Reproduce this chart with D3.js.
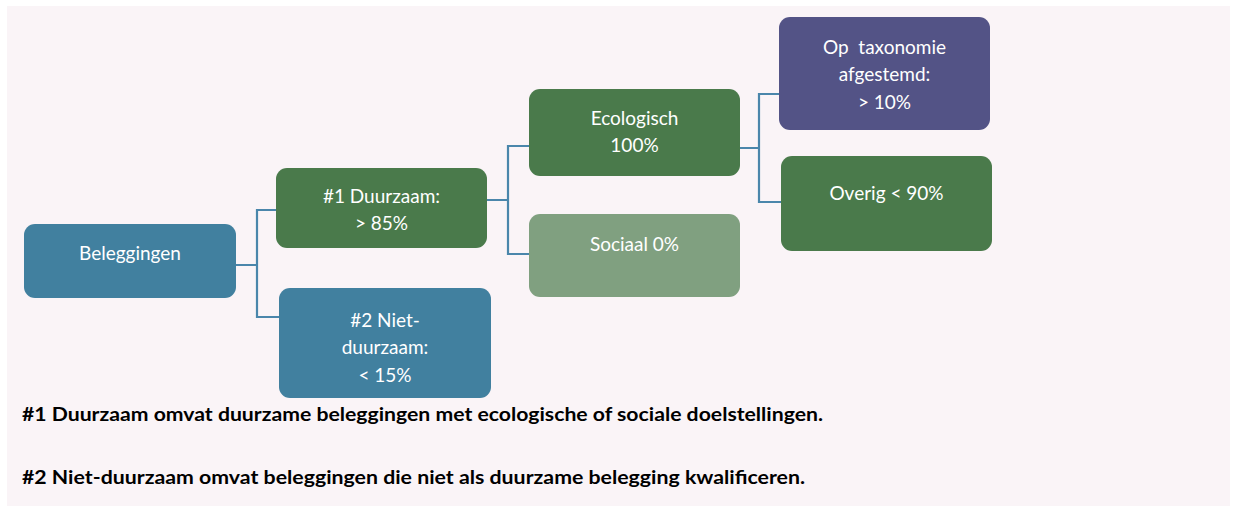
<!DOCTYPE html>
<html>
<head>
<meta charset="utf-8">
<script src="https://cdn.jsdelivr.net/npm/d3@7"></script>
<style>
  body { margin: 0; background: #ffffff; }
  svg { display: block; }
</style>
</head>
<body>
<script>
(function all(){
  //node data
  var nodeIds = ["root", "dz", "eco", "tax", "ovg", "soc", "ndz"];
  var nodeParents = [null, "root", "dz", "eco", "eco", "dz", "root"];
  var nodeLines = [
    ["Beleggingen"],
    ["#1 Duurzaam:", "> 85%"],
    ["Ecologisch", "100%"],
    ["Op  taxonomie", "afgestemd:", "> 10%"],
    ["Overig < 90%"],
    ["Sociaal 0%"],
    ["#2 Niet-", "duurzaam:", "< 15%"]
  ];
  var nodeKinds = ["blue", "green", "green", "purple", "green", "lightgreen", "blue"];
  var footnotes = [
    "#1 Duurzaam omvat duurzame beleggingen met ecologische of sociale doelstellingen.",
    "#2 Niet-duurzaam omvat beleggingen die niet als duurzame belegging kwalificeren."
  ];

  //layout: x0, y0, x1, y1, first text line centre
  var layout = {
    root: [24, 224, 236, 298, 253],
    dz:   [276, 168, 487, 248, 196],
    eco:  [529, 89, 740, 176, 118],
    tax:  [779, 17, 990, 130, 47],
    ovg:  [781, 156, 992, 251, 193],
    soc:  [529, 214, 740, 297, 244],
    ndz:  [279, 288, 491, 398, 320]
  };
  //connector: x of vertical stem, y of exit from parent
  var stems = { root: [257, 265], dz: [508, 200], eco: [759, 148] };
  //y where each child is entered
  var entry = { dz: 210, ndz: 317, eco: 146, soc: 254, tax: 94, ovg: 202 };
  //footnote widths as they appear in the picture
  var noteWidths = [801, 783];

  var width = 1235, height = 506;
  var color = d3.scaleOrdinal()
    .domain(["blue", "green", "lightgreen", "purple"])
    .range(["#41809f", "#4a7a4b", "#80a080", "#535386"]);

  var svg = d3.select("body").append("svg")
    .attr("width", width)
    .attr("height", height);

  svg.append("rect")
    .attr("x", 7).attr("y", 6)
    .attr("width", width - 12).attr("height", height - 6)
    .attr("fill", "#faf4f7");

  var nodes = nodeIds.map(function(id, i){
    return { id: id, parent: nodeParents[i], lines: nodeLines[i], kind: nodeKinds[i] };
  });

  //connectors
  var links = svg.append("g").attr("class", "links");
  nodes.forEach(function(d){
    if (!d.parent) return;
    var p = layout[d.parent], s = stems[d.parent], c = layout[d.id];
    var path = d3.path();
    path.moveTo(p[2], s[1]);
    path.lineTo(s[0], s[1]);
    path.moveTo(s[0], s[1]);
    path.lineTo(s[0], entry[d.id]);
    path.lineTo(c[0], entry[d.id]);
    links.append("path")
      .attr("d", path.toString())
      .attr("fill", "none")
      .attr("stroke", "#4a86ab")
      .attr("stroke-width", 2.2);
  });

  //boxes
  var box = svg.selectAll(".box")
    .data(nodes)
    .enter()
    .append("g")
    .attr("class", "box");

  box.append("rect")
    .attr("x", function(d){ return layout[d.id][0]; })
    .attr("y", function(d){ return layout[d.id][1]; })
    .attr("width", function(d){ return layout[d.id][2] - layout[d.id][0]; })
    .attr("height", function(d){ return layout[d.id][3] - layout[d.id][1]; })
    .attr("rx", 11)
    .attr("fill", function(d){ return color(d.kind); });

  box.each(function(d){
    var l = layout[d.id];
    var cx = (l[0] + l[2]) / 2;
    d3.select(this).selectAll("text")
      .data(d.lines)
      .enter()
      .append("text")
      .attr("x", cx)
      .attr("y", function(t, i){ return l[4] + i * 27.5; })
      .attr("dy", "0.35em")
      .attr("text-anchor", "middle")
      .attr("fill", "#ffffff")
      .style("font-family", "Lato, 'Open Sans', sans-serif")
      .style("font-size", "19px")
      .style("white-space", "pre")
      .text(function(t){ return t; });
  });

  //footnotes
  svg.selectAll(".note")
    .data(footnotes)
    .enter()
    .append("text")
    .attr("class", "note")
    .attr("x", 22)
    .attr("y", function(d, i){ return 421 + i * 63; })
    .attr("textLength", function(d, i){ return noteWidths[i]; })
    .attr("lengthAdjust", "spacingAndGlyphs")
    .attr("fill", "#000000")
    .style("font-family", "Lato, 'Open Sans', sans-serif")
    .style("font-weight", "bold")
    .style("font-size", "19px")
    .text(function(d){ return d; });
})();
</script>
</body>
</html>
